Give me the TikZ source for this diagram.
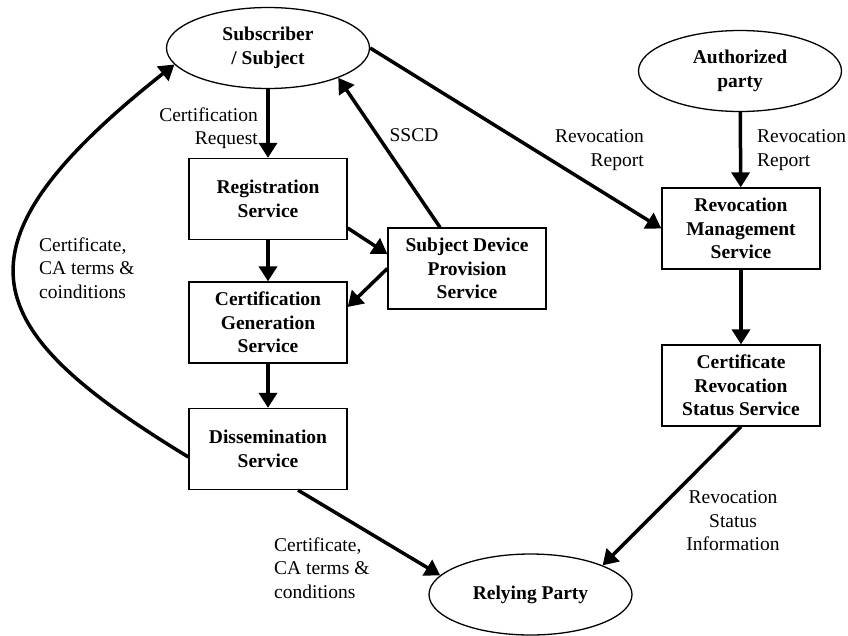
\documentclass[tikz,border=0pt]{standalone}
\usepackage{fontspec}
\setmainfont{Liberation Serif}
\usetikzlibrary{shapes.geometric,arrows.meta}
\begin{document}
\begin{tikzpicture}[x=1pt,y=-1pt,
  txt/.style={font=\fontsize{19.5}{23.5}\selectfont},
  box/.style={draw,line width=1.3pt,minimum width=158pt,minimum height=81pt,inner sep=0pt,align=center,font=\fontsize{19.5}{23.5}\selectfont\bfseries},
  oval/.style={draw,ellipse,line width=1.3pt,minimum width=203pt,minimum height=81pt,inner sep=0pt,align=center,font=\fontsize{19.5}{23.5}\selectfont\bfseries},
  arr/.style={line width=3.5pt,-{Triangle[length=15pt,width=18pt]}},
  lbl/.style={txt,inner sep=0pt}]
\useasboundingbox (0,0) rectangle (848,635);
% nodes
\node[oval] (subj) at (268,48) {Subscriber\\/ Subject};
\node[oval] (auth) at (740,71) {Authorized\\party};
\node[box] (reg) at (268,199) {Registration\\Service};
\node[box] (cgs) at (268,322.5) {Certification\\Generation\\Service};
\node[box] (diss) at (268,449) {Dissemination\\Service};
\node[box] (sdp) at (467,268.5) {Subject Device\\Provision\\Service};
\node[box] (rms) at (741,228.5) {Revocation\\Management\\Service};
\node[box] (crs) at (741,385.5) {Certificate\\Revocation\\Status Service};
\node[oval] (rp) at (530.5,594.5) {Relying Party};
% labels
\node[lbl,anchor=east,align=right] (l1) at (258,128) {Certification\\Request};
\node[lbl] (l2) at (414,135) {SSCD};
\node[lbl,anchor=east,align=right] (l3) at (644,150) {Revocation\\Report};
\node[lbl,anchor=west,align=left] (l4) at (757,150) {Revocation\\Report};
\node[lbl,align=center] (l5) at (733,521) {Revocation\\Status\\Information};
\node[lbl,anchor=west,align=left] (l6) at (274,568) {Certificate,\\CA terms \&\\conditions};
\node[lbl,anchor=west,align=left] (l7) at (39,268) {Certificate,\\CA terms \&\\coinditions};
% connectors
\draw[arr] (subj) -- (reg);
\draw[arr] (reg) -- (cgs);
\draw[arr] (cgs) -- (diss);
\draw[arr] ([yshift=-29pt]reg.east) -- ([yshift=14.5pt]sdp.west);
\draw[arr] (sdp.west) -- ([yshift=15.5pt]cgs.east);
\draw[arr] ([xshift=-27pt]sdp.north) -- (subj.-23);
\draw[arr] (subj.east) -- (rms.west);
\draw[arr] (auth) -- (rms);
\draw[arr] (rms) -- (crs);
\draw[arr] (crs.south) -- (rp.22);
\draw[arr] ([xshift=30pt]diss.south) -- (rp.168);
\draw[arr] ([yshift=-8pt]diss.west) .. controls (-20,330) and (-60,250) .. (subj.190);
\end{tikzpicture}
\end{document}
